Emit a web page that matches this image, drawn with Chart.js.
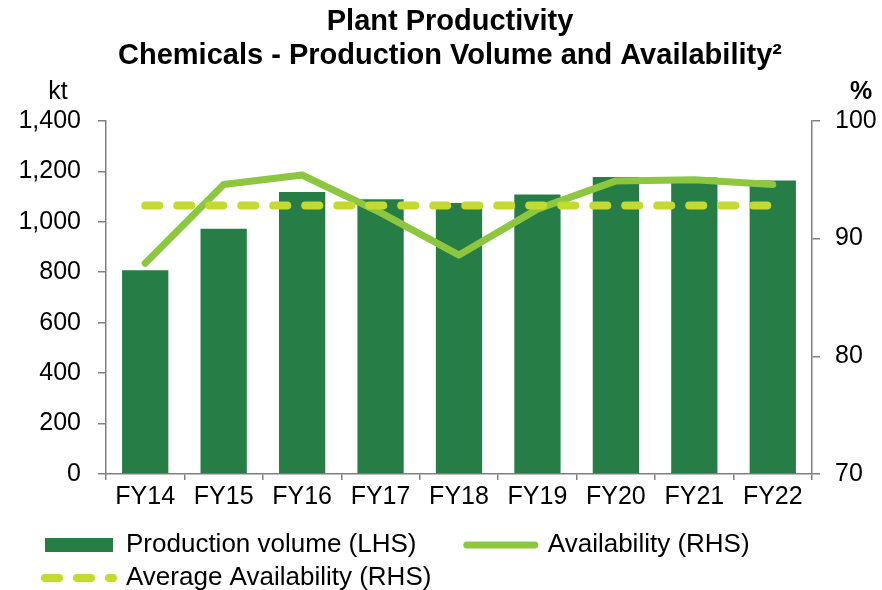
<!DOCTYPE html>
<html>
<head>
<meta charset="utf-8">
<script src="https://cdn.jsdelivr.net/npm/chart.js@4.4.1/dist/chart.umd.min.js"></script>
<style>
  html, body { margin: 0; padding: 0; background: #fff; overflow: hidden; }
  #wrap { width: 882px; height: 601px; }
</style>
</head>
<body>
<div id="wrap"><canvas id="chart" width="882" height="601"></canvas></div>
<script>
// --- data ---
const years = ['FY14', 'FY15', 'FY16', 'FY17', 'FY18', 'FY19', 'FY20', 'FY21', 'FY22'];
const productionVolume = [808, 972, 1118, 1089, 1074, 1108, 1177, 1175, 1164];   // kt
const availability = [87.9, 94.6, 95.4, 92.2, 88.6, 92.5, 94.9, 95.0, 94.6];     // %
const averageAvailability = [92.8, 92.8, 92.8, 92.8, 92.8, 92.8, 92.8, 92.8, 92.8];
const volumeTicks = [0, 200, 400, 600, 800, 1000, 1200, 1400];
const percentTicks = [70, 80, 90, 100];

const BAR_GREEN = '#267e46';
const LINE_GREEN = '#8dc63f';
const DASH_GREEN = '#c4da2d';
const AXIS_GREY = '#808080';

Chart.defaults.font.family = "'Liberation Sans', Arial, sans-serif";
Chart.defaults.color = '#000';

// unit labels above each value axis
const unitLabels = {
  id: 'unitLabels',
  afterDraw(chart) {
    const { ctx, chartArea, scales } = chart;
    ctx.save();
    ctx.fillStyle = '#000';
    ctx.textAlign = 'center';
    ctx.textBaseline = 'middle';
    ctx.font = "25px 'Liberation Sans', Arial, sans-serif";
    ctx.fillText('kt', scales.y.right - 48, chartArea.top - 29);
    ctx.font = "bold 25px 'Liberation Sans', Arial, sans-serif";
    ctx.fillText('%', scales.y1.left + 49, chartArea.top - 29);
    ctx.restore();
  }
};

// legend starts further in from the left edge, title sits a bit right of centre
const nudgeBoxes = {
  id: 'nudgeBoxes',
  afterLayout(chart) {
    if (chart.legend) chart.legend.left = 38;
    if (chart.titleBlock) chart.titleBlock.left = 18;
  }
};

// point-style legend items lose the dataset's line look; copy it back
function legendItems(chart) {
  const items = Chart.defaults.plugins.legend.labels.generateLabels(chart);
  items.forEach(item => {
    const ds = chart.data.datasets[item.datasetIndex];
    if (ds.type === 'line') {
      item.lineWidth = ds.borderWidth;
      item.lineDash = ds.borderDash || [];
      item.lineCap = ds.borderCapStyle;
      item.strokeStyle = ds.borderColor;
    }
  });
  return items;
}

new Chart(document.getElementById('chart'), {
  type: 'bar',
  data: {
    labels: years,
    datasets: [
      {
        type: 'bar',
        label: 'Production volume (LHS)      ',
        data: productionVolume,
        yAxisID: 'y',
        backgroundColor: BAR_GREEN,
        borderWidth: 0,
        barPercentage: 0.59,
        categoryPercentage: 1,
        pointStyle: 'rect',
        order: 3
      },
      {
        type: 'line',
        label: 'Availability (RHS)',
        data: availability,
        yAxisID: 'y1',
        borderColor: LINE_GREEN,
        backgroundColor: LINE_GREEN,
        borderWidth: 7,
        borderCapStyle: 'round',
        borderJoinStyle: 'round',
        tension: 0,
        pointRadius: 0,
        pointStyle: 'line',
        order: 2
      },
      {
        type: 'line',
        label: 'Average Availability (RHS)',
        data: averageAvailability,
        yAxisID: 'y1',
        borderColor: DASH_GREEN,
        backgroundColor: DASH_GREEN,
        borderWidth: 8,
        borderDash: [14, 18],
        borderCapStyle: 'round',
        tension: 0,
        pointRadius: 0,
        pointStyle: 'line',
        order: 1
      }
    ]
  },
  options: {
    responsive: false,
    animation: false,
    layout: { padding: 0 },
    plugins: {
      tooltip: { enabled: false },
      title: {
        display: true,
        text: ['Plant Productivity', 'Chemicals - Production Volume and Availability²'],
        color: '#000',
        font: { size: 29, weight: 'bold', lineHeight: 1.17 },
        padding: { top: 5, bottom: 48 }
      },
      legend: {
        position: 'bottom',
        align: 'start',
        labels: {
          color: '#000',
          font: { size: 26 },
          usePointStyle: true,
          pointStyleWidth: 68,
          boxHeight: 14,
          padding: 7,
          generateLabels: legendItems,
          sort: (a, b) => a.datasetIndex - b.datasetIndex
        }
      }
    },
    scales: {
      x: {
        offset: true,
        grid: { display: true, drawOnChartArea: false, offset: true, tickLength: 6, color: AXIS_GREY, lineWidth: 1.5 },
        border: { display: true, color: AXIS_GREY, width: 1.5 },
        ticks: { font: { size: 25 }, color: '#000', padding: 2, maxRotation: 0 },
        afterFit: s => { s.height = 51; }
      },
      y: {
        position: 'left',
        min: 0,
        max: 1400,
        grid: { display: true, drawOnChartArea: false, tickLength: 8, color: AXIS_GREY, lineWidth: 1.5 },
        border: { display: true, color: AXIS_GREY, width: 1.5 },
        afterBuildTicks: s => { s.ticks = volumeTicks.map(v => ({ value: v })); },
        ticks: {
          font: { size: 25 },
          color: '#000',
          padding: 17,
          callback: v => v.toLocaleString('en-US')
        },
        afterFit: s => { s.width = 106; }
      },
      y1: {
        position: 'right',
        min: 70,
        max: 100,
        grid: { display: true, drawOnChartArea: false, tickLength: 8, color: AXIS_GREY, lineWidth: 1.5 },
        border: { display: true, color: AXIS_GREY, width: 1.5 },
        afterBuildTicks: s => { s.ticks = percentTicks.map(v => ({ value: v })); },
        ticks: { font: { size: 25 }, color: '#000', padding: 15 },
        afterFit: s => { s.width = 70; }
      }
    }
  },
  plugins: [unitLabels, nudgeBoxes]
});
</script>
</body>
</html>
